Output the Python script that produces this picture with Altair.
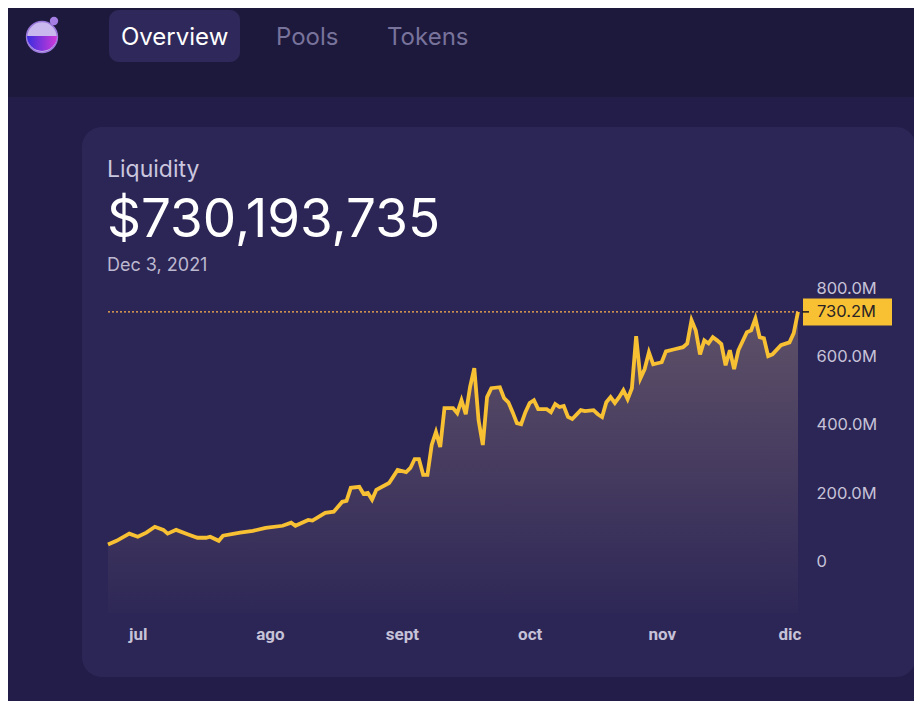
import json
import altair as alt
import pandas as pd

# ---------------- data ----------------
dates = [
    "2021-06-24", "2021-06-26", "2021-06-29", "2021-07-01", "2021-07-03", "2021-07-05",
    "2021-07-07", "2021-07-08", "2021-07-10", "2021-07-13", "2021-07-15", "2021-07-17",
    "2021-07-18", "2021-07-20", "2021-07-21", "2021-07-25", "2021-07-28", "2021-07-31",
    "2021-08-04", "2021-08-06", "2021-08-07", "2021-08-10", "2021-08-11", "2021-08-14",
    "2021-08-16", "2021-08-18", "2021-08-19", "2021-08-20", "2021-08-22", "2021-08-23",
    "2021-08-24", "2021-08-25", "2021-08-26", "2021-08-29", "2021-08-31", "2021-09-02",
    "2021-09-03", "2021-09-04", "2021-09-05", "2021-09-06", "2021-09-07", "2021-09-08",
    "2021-09-09", "2021-09-10", "2021-09-11", "2021-09-13", "2021-09-14", "2021-09-15",
    "2021-09-16", "2021-09-17", "2021-09-18", "2021-09-19", "2021-09-20", "2021-09-21",
    "2021-09-22", "2021-09-24", "2021-09-25", "2021-09-26", "2021-09-27", "2021-09-28",
    "2021-09-29", "2021-09-30", "2021-10-01", "2021-10-02", "2021-10-03", "2021-10-05",
    "2021-10-06", "2021-10-07", "2021-10-08", "2021-10-09", "2021-10-10", "2021-10-11",
    "2021-10-13", "2021-10-14", "2021-10-16", "2021-10-17", "2021-10-18", "2021-10-19",
    "2021-10-20", "2021-10-21", "2021-10-22", "2021-10-23", "2021-10-24", "2021-10-25",
    "2021-10-26", "2021-10-27", "2021-10-28", "2021-10-29", "2021-10-30", "2021-10-31",
    "2021-11-01", "2021-11-02", "2021-11-04", "2021-11-06", "2021-11-07", "2021-11-08",
    "2021-11-09", "2021-11-10", "2021-11-11", "2021-11-12", "2021-11-13", "2021-11-14",
    "2021-11-15", "2021-11-16", "2021-11-17", "2021-11-18", "2021-11-19", "2021-11-21",
    "2021-11-22", "2021-11-23", "2021-11-24", "2021-11-25", "2021-11-26", "2021-11-27",
    "2021-11-29", "2021-12-01", "2021-12-02", "2021-12-03",
]
liquidity_m = [
    50, 61, 82, 73, 85, 102,
    93, 82, 93, 79, 70, 70,
    73, 61, 76, 85, 90, 99,
    105, 114, 105, 122, 120, 143,
    146, 175, 178, 216, 219, 198,
    201, 181, 210, 230, 268, 262,
    274, 300, 300, 254, 254, 341,
    379, 335, 449, 449, 434, 472,
    431, 510, 566, 414, 341, 481,
    507, 510, 478, 466, 437, 405,
    402, 437, 464, 472, 446, 446,
    437, 461, 452, 455, 423, 417,
    443, 440, 443, 431, 423, 466,
    481, 464, 481, 501, 475, 507,
    659, 536, 563, 612, 577, 580,
    583, 615, 621, 627, 638, 706,
    676, 606, 647, 638, 656, 647,
    636, 574, 618, 563, 618, 671,
    676, 711, 656, 653, 601, 606,
    633, 641, 668, 730.193735,
]
y_ticks = [0, 200, 400, 600, 800]
month_ticks = [(2021, 7), (2021, 8), (2021, 9), (2021, 10), (2021, 11), (2021, 12)]
month_names = ["ene", "feb", "mar", "abr", "may", "jun", "jul", "ago", "sept", "oct", "nov", "dic"]

latest_value = 730.193735
latest_label = "730.2M"
headline = "$730,193,735"
panel_title = "Liquidity"
latest_date = "Dec 3, 2021"
nav_items = ["Overview", "Pools", "Tokens"]

# ---------------- styling ----------------
PAGE_BG = "#231d49"
HEADER_BG = "#1d193c"
CARD_BG = "#2c2656"
TAB_BG = "#2f295b"
YELLOW = "#f8c133"
LABEL = "#c6c2d8"
FONT = "Inter"

W, H = 690, 325
df = pd.DataFrame({"date": dates, "liq": liquidity_m})
one = pd.DataFrame({"k": [0]})

x_scale = alt.Scale(
    type="utc",
    domain=[alt.DateTime(year=2021, month=6, date=24, utc=True),
            alt.DateTime(year=2021, month=12, date=3, utc=True)],
)
y_scale = alt.Scale(domain=[-150, 800], nice=False, zero=False)

x_axis = alt.Axis(
    title=None, domain=False, ticks=False, grid=False, labelFlush=False, zindex=2,
    values=[alt.DateTime(year=y, month=m, date=1, utc=True) for y, m in month_ticks],
    labelExpr=json.dumps(month_names) + "[utcmonth(datum.value)]",
    labelPadding=13, labelFontSize=17, labelFontWeight="bold",
    labelFont="Liberation Sans Narrow, Roboto", labelColor=LABEL,
)
y_axis = alt.Axis(
    title=None, orient="right", domain=False, ticks=False, grid=False, zindex=2,
    values=y_ticks,
    labelExpr="datum.value == 0 ? '0' : format(datum.value, '.1f') + 'M'",
    labelPadding=18, labelFontSize=16.5, labelFont=FONT, labelColor=LABEL,
)

X = alt.X("date:T", scale=x_scale, axis=x_axis)
Y = alt.Y("liq:Q", scale=y_scale, axis=y_axis)

# ---------------- page decoration ----------------
header = alt.Chart(one).mark_rect(fill=HEADER_BG).encode(
    x=alt.value(-120), x2=alt.value(830), y=alt.value(-300), y2=alt.value(-191))
card = alt.Chart(one).mark_rect(fill=CARD_BG, cornerRadius=20).encode(
    x=alt.value(-26), x2=alt.value(808), y=alt.value(-161), y2=alt.value(389))
tab = alt.Chart(one).mark_rect(fill=TAB_BG, cornerRadius=10).encode(
    x=alt.value(1), x2=alt.value(132), y=alt.value(-278), y2=alt.value(-226))

logo_ball = alt.Chart(one).mark_circle(
    size=950, fill="#c9b8ee", opacity=1, stroke="#9b78dc", strokeWidth=1.5
).encode(x=alt.value(-66), y=alt.value(-251))
logo_liquid = alt.Chart(one).mark_arc(
    theta=1.5708, theta2=4.7124, radius=15,
    fill=alt.Gradient(gradient="linear",
                      stops=[alt.GradientStop(color="#3b2ddf", offset=0),
                             alt.GradientStop(color="#d03ad8", offset=1)],
                      x1=0, x2=1, y1=0, y2=0),
).encode(x=alt.value(-66), y=alt.value(-252))
logo_neck = alt.Chart(one).mark_circle(size=70, fill="#a47ee2", opacity=1).encode(
    x=alt.value(-54), y=alt.value(-267))

nav_colors = ["#ffffff", "#78739b", "#78739b"]
nav_x = [13, 168, 279]
nav_layers = [
    alt.Chart(one).mark_text(text=t, align="left", baseline="alphabetic", fontSize=24,
                             font=FONT, color=c).encode(x=alt.value(px), y=alt.value(-243))
    for t, c, px in zip(nav_items, nav_colors, nav_x)
]

title_txt = alt.Chart(one).mark_text(
    text=panel_title, align="left", baseline="alphabetic", fontSize=23, font=FONT, color="#cbc7de"
).encode(x=alt.value(-1), y=alt.value(-111))
value_txt = alt.Chart(one).mark_text(
    text=headline, align="left", baseline="alphabetic", fontSize=53, font=FONT, color="#ffffff"
).encode(x=alt.value(-1), y=alt.value(-51))
date_txt = alt.Chart(one).mark_text(
    text=latest_date, align="left", baseline="alphabetic", fontSize=18, font=FONT, color="#bcb8cf"
).encode(x=alt.value(-1), y=alt.value(-17))

# ---------------- chart ----------------
area = alt.Chart(df).mark_area(
    fill=alt.Gradient(gradient="linear",
                      stops=[alt.GradientStop(color="#5f5168", offset=0),
                             alt.GradientStop(color="#473c60", offset=0.5),
                             alt.GradientStop(color="#2e2857", offset=1)],
                      x1=0, x2=0, y1=0, y2=1),
).encode(x=X, y=Y, y2=alt.datum(-150))

line = alt.Chart(df).mark_line(color=YELLOW, strokeWidth=3.8, strokeJoin="miter").encode(x=X, y=Y)

cur = pd.DataFrame({"v": [latest_value], "label": [latest_label]})
dotted = alt.Chart(cur).mark_rule(color="#ffb24d", strokeWidth=1.4, strokeDash=[2, 2]).encode(
    x=alt.value(0), x2=alt.value(692), y=alt.Y("v:Q", scale=y_scale))
box = alt.Chart(cur).mark_point(
    shape="M-1,-0.3034L1,-0.3034L1,0.3034L-1,0.3034Z", size=7921, filled=True,
    fill=YELLOW, opacity=1, strokeWidth=0,
).encode(x=alt.value(739.5), y=alt.Y("v:Q", scale=y_scale))
tick = alt.Chart(cur).mark_rule(color="#1b1822", strokeWidth=1.5).encode(
    x=alt.value(694), x2=alt.value(701), y=alt.Y("v:Q", scale=y_scale))
box_txt = alt.Chart(cur).mark_text(
    align="left", baseline="middle", fontSize=16.5, font=FONT, color="#2a2326"
).encode(x=alt.value(709), y=alt.Y("v:Q", scale=y_scale), text="label:N")

chart = alt.layer(
    header, card, tab, logo_ball, logo_liquid, logo_neck, *nav_layers,
    title_txt, value_txt, date_txt,
    area, line, dotted, box, tick, box_txt,
).properties(
    width=W, height=H,
    padding={"left": 100, "top": 280, "right": 116, "bottom": 88},
    autosize=alt.AutoSizeParams(type="none"),
    background=PAGE_BG,
).configure_view(strokeWidth=0)

chart.save("out.html", embed_options={"renderer": "svg", "actions": False})
